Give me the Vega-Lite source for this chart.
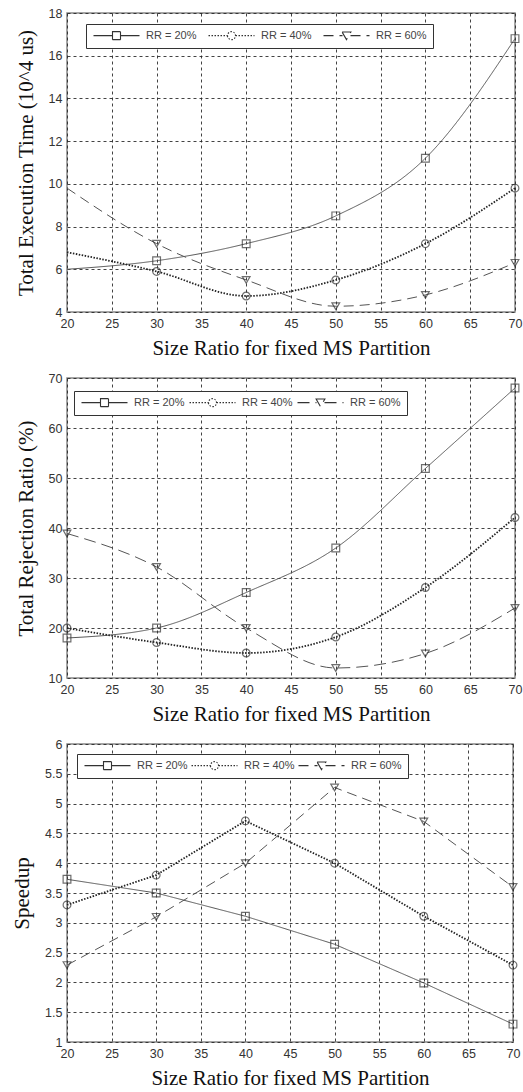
{
  "$schema": "https://vega.github.io/schema/vega-lite/v6.json",
  "background": "white",
  "padding": {"left": 10, "top": 6, "right": 5, "bottom": 5},
  "spacing": 11,
  "resolve": {
    "scale": {"x": "independent", "y": "independent", "strokeDash": "independent"},
    "legend": {"strokeDash": "independent"}
  },
  "config": {
    "view": {"stroke": "#888", "strokeWidth": 1.5},
    "axis": {
      "grid": true, "gridColor": "#222", "gridDash": [3, 3], "gridWidth": 1, "gridOpacity": 0.85,
      "domain": false, "ticks": false,
      "labelFont": "Liberation Sans", "labelFontSize": 12.5, "labelColor": "#333", "labelPadding": 5,
      "labelFlush": false, "labelOverlap": false,
      "titleFont": "Liberation Serif", "titleFontSize": 21, "titleFontWeight": "normal", "titleColor": "#111", "titlePadding": 8
    },
    "axisY": {"titlePadding": 12},
    "legend": {
      "orient": "none", "direction": "horizontal",
      "labelFont": "Liberation Sans", "labelFontSize": 11, "labelColor": "#444",
      "symbolSize": 64, "symbolOffset": 19, "labelOffset": 24, "padding": 6,
      "strokeColor": "#333", "fillColor": "white", "symbolStrokeColor": "#333", "symbolStrokeWidth": 1.1, "symbolFillColor": "white"
    }
  },
  "vconcat": [
    {
      "width": 448, "height": 299,
      "data": {"values": [
        {"x": 20, "y": 6.0, "series": "RR = 20%"}, {"x": 30, "y": 6.4, "series": "RR = 20%"}, {"x": 40, "y": 7.2, "series": "RR = 20%"}, {"x": 50, "y": 8.5, "series": "RR = 20%"}, {"x": 60, "y": 11.2, "series": "RR = 20%"}, {"x": 70, "y": 16.8, "series": "RR = 20%"},
        {"x": 20, "y": 6.8, "series": "RR = 40%"}, {"x": 30, "y": 5.9, "series": "RR = 40%"}, {"x": 40, "y": 4.75, "series": "RR = 40%"}, {"x": 50, "y": 5.5, "series": "RR = 40%"}, {"x": 60, "y": 7.2, "series": "RR = 40%"}, {"x": 70, "y": 9.8, "series": "RR = 40%"},
        {"x": 20, "y": 9.8, "series": "RR = 60%"}, {"x": 30, "y": 7.2, "series": "RR = 60%"}, {"x": 40, "y": 5.5, "series": "RR = 60%"}, {"x": 50, "y": 4.27, "series": "RR = 60%"}, {"x": 60, "y": 4.8, "series": "RR = 60%"}, {"x": 70, "y": 6.3, "series": "RR = 60%"}
      ]},
      "encoding": {
        "x": {"field": "x", "type": "quantitative", "scale": {"domain": [20, 70]}, "axis": {"values": [20, 25, 30, 35, 40, 45, 50, 55, 60, 65, 70], "title": "Size Ratio for fixed MS Partition"}},
        "y": {"field": "y", "type": "quantitative", "scale": {"domain": [4, 18]}, "axis": {"values": [4, 6, 8, 10, 12, 14, 16, 18], "title": "Total Execution Time (10^4 us)"}}
      },
      "layer": [
        {
          "mark": {"type": "line", "interpolate": "monotone"},
          "encoding": {
            "strokeDash": {"field": "series", "type": "nominal", "scale": {"domain": ["RR = 20%", "RR = 40%", "RR = 60%"], "range": [[1, 0], [1.5, 1.5], [10, 6]]},
              "legend": {"title": null, "legendX": 19, "legendY": 11, "columnPadding": 9,
                "encode": {"symbols": {"update": {"shape": {"signal": "datum.value === 'RR = 20%' ? 'M-5.75,0H-1M1,0H5.75M-1,-1H1V1H-1Z' : datum.value === 'RR = 40%' ? 'M-5.75,0H-1M1,0H5.75M-1,0A1,1 0 1,0 1,0A1,1 0 1,0 -1,0Z' : 'M-5.75,0H-1M1,0H5.75M-1.1,-0.9H1.1L0,1Z'"}}}}}},
            "color": {"condition": {"test": "datum.series === 'RR = 40%'", "value": "#222"}, "value": "#555"},
            "strokeWidth": {"condition": {"test": "datum.series === 'RR = 40%'", "value": 1.8}, "value": 1}
          }
        },
        {
          "transform": [{"filter": "datum.x > 20"}],
          "mark": {"type": "point", "filled": false, "size": 60, "strokeWidth": 1.2, "color": "#333"},
          "encoding": {
            "shape": {"condition": [{"test": "datum.series === 'RR = 20%'", "value": "square"}, {"test": "datum.series === 'RR = 40%'", "value": "circle"}], "value": "triangle-down"}
          }
        }
      ]
    },
    {
      "width": 448, "height": 300,
      "data": {"values": [
        {"x": 20, "y": 18, "series": "RR = 20%"}, {"x": 30, "y": 20, "series": "RR = 20%"}, {"x": 40, "y": 27.1, "series": "RR = 20%"}, {"x": 50, "y": 36, "series": "RR = 20%"}, {"x": 60, "y": 51.9, "series": "RR = 20%"}, {"x": 70, "y": 68, "series": "RR = 20%"},
        {"x": 20, "y": 20, "series": "RR = 40%"}, {"x": 30, "y": 17.1, "series": "RR = 40%"}, {"x": 40, "y": 15, "series": "RR = 40%"}, {"x": 50, "y": 18.2, "series": "RR = 40%"}, {"x": 60, "y": 28.1, "series": "RR = 40%"}, {"x": 70, "y": 42.1, "series": "RR = 40%"},
        {"x": 20, "y": 38.9, "series": "RR = 60%"}, {"x": 30, "y": 32.2, "series": "RR = 60%"}, {"x": 40, "y": 20, "series": "RR = 60%"}, {"x": 50, "y": 12, "series": "RR = 60%"}, {"x": 60, "y": 14.9, "series": "RR = 60%"}, {"x": 70, "y": 24, "series": "RR = 60%"}
      ]},
      "encoding": {
        "x": {"field": "x", "type": "quantitative", "scale": {"domain": [20, 70]}, "axis": {"values": [20, 25, 30, 35, 40, 45, 50, 55, 60, 65, 70], "title": "Size Ratio for fixed MS Partition"}},
        "y": {"field": "y", "type": "quantitative", "scale": {"domain": [10, 70]}, "axis": {"values": [10, 20, 30, 40, 50, 60, 70], "title": "Total Rejection Ratio (%)"}}
      },
      "layer": [
        {
          "mark": {"type": "line", "interpolate": "monotone"},
          "encoding": {
            "strokeDash": {"field": "series", "type": "nominal", "scale": {"domain": ["RR = 20%", "RR = 40%", "RR = 60%"], "range": [[1, 0], [1.5, 1.5], [12, 6]]},
              "legend": {"title": null, "legendX": 7, "legendY": 13, "columnPadding": 2,
                "encode": {"symbols": {"update": {"shape": {"signal": "datum.value === 'RR = 20%' ? 'M-5.75,0H-1M1,0H5.75M-1,-1H1V1H-1Z' : datum.value === 'RR = 40%' ? 'M-5.75,0H-1M1,0H5.75M-1,0A1,1 0 1,0 1,0A1,1 0 1,0 -1,0Z' : 'M-5.75,0H-1M1,0H5.75M-1.1,-0.9H1.1L0,1Z'"}}}}}},
            "color": {"condition": {"test": "datum.series === 'RR = 40%'", "value": "#222"}, "value": "#555"},
            "strokeWidth": {"condition": {"test": "datum.series === 'RR = 40%'", "value": 1.8}, "value": 1}
          }
        },
        {
          "mark": {"type": "point", "filled": false, "size": 60, "strokeWidth": 1.2, "color": "#333"},
          "encoding": {
            "shape": {"condition": [{"test": "datum.series === 'RR = 20%'", "value": "square"}, {"test": "datum.series === 'RR = 40%'", "value": "circle"}], "value": "triangle-down"}
          }
        }
      ]
    },
    {
      "width": 446, "height": 298,
      "data": {"values": [
        {"x": 20, "y": 3.73, "series": "RR = 20%"}, {"x": 30, "y": 3.5, "series": "RR = 20%"}, {"x": 40, "y": 3.11, "series": "RR = 20%"}, {"x": 50, "y": 2.64, "series": "RR = 20%"}, {"x": 60, "y": 1.99, "series": "RR = 20%"}, {"x": 70, "y": 1.3, "series": "RR = 20%"},
        {"x": 20, "y": 3.3, "series": "RR = 40%"}, {"x": 30, "y": 3.8, "series": "RR = 40%"}, {"x": 40, "y": 4.71, "series": "RR = 40%"}, {"x": 50, "y": 4.0, "series": "RR = 40%"}, {"x": 60, "y": 3.11, "series": "RR = 40%"}, {"x": 70, "y": 2.29, "series": "RR = 40%"},
        {"x": 20, "y": 2.29, "series": "RR = 60%"}, {"x": 30, "y": 3.1, "series": "RR = 60%"}, {"x": 40, "y": 4.0, "series": "RR = 60%"}, {"x": 50, "y": 5.27, "series": "RR = 60%"}, {"x": 60, "y": 4.7, "series": "RR = 60%"}, {"x": 70, "y": 3.6, "series": "RR = 60%"}
      ]},
      "encoding": {
        "x": {"field": "x", "type": "quantitative", "scale": {"domain": [20, 70]}, "axis": {"values": [20, 25, 30, 35, 40, 45, 50, 55, 60, 65, 70], "title": "Size Ratio for fixed MS Partition"}},
        "y": {"field": "y", "type": "quantitative", "scale": {"domain": [1, 6]}, "axis": {"values": [1, 1.5, 2, 2.5, 3, 3.5, 4, 4.5, 5, 5.5, 6], "format": "~g", "title": "Speedup"}}
      },
      "layer": [
        {
          "mark": {"type": "line", "interpolate": "linear"},
          "encoding": {
            "strokeDash": {"field": "series", "type": "nominal", "scale": {"domain": ["RR = 20%", "RR = 40%", "RR = 60%"], "range": [[1, 0], [1.5, 1.5], [10, 6]]},
              "legend": {"title": null, "legendX": 10, "legendY": 10, "columnPadding": 1,
                "encode": {"symbols": {"update": {"shape": {"signal": "datum.value === 'RR = 20%' ? 'M-5.75,0H-1M1,0H5.75M-1,-1H1V1H-1Z' : datum.value === 'RR = 40%' ? 'M-5.75,0H-1M1,0H5.75M-1,0A1,1 0 1,0 1,0A1,1 0 1,0 -1,0Z' : 'M-5.75,0H-1M1,0H5.75M-1.1,-0.9H1.1L0,1Z'"}}}}}},
            "color": {"condition": {"test": "datum.series === 'RR = 40%'", "value": "#222"}, "value": "#555"},
            "strokeWidth": {"condition": {"test": "datum.series === 'RR = 40%'", "value": 1.8}, "value": 1}
          }
        },
        {
          "mark": {"type": "point", "filled": false, "size": 60, "strokeWidth": 1.2, "color": "#333"},
          "encoding": {
            "shape": {"condition": [{"test": "datum.series === 'RR = 20%'", "value": "square"}, {"test": "datum.series === 'RR = 40%'", "value": "circle"}], "value": "triangle-down"}
          }
        }
      ]
    }
  ]
}
